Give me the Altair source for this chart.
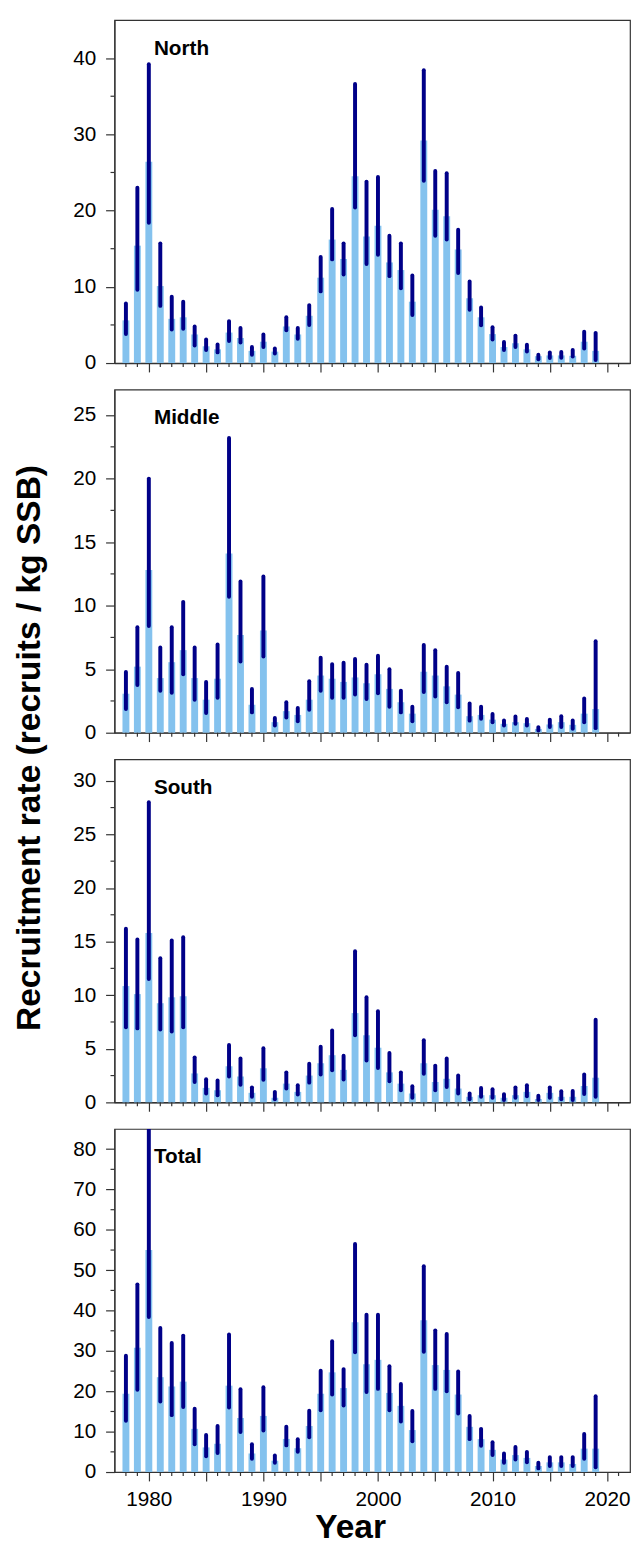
import altair as alt
import pandas as pd

years = list(range(1978, 2020))

north_med = [5.6, 15.4, 26.4, 10.1, 5.8, 6.0, 3.75, 2.2, 1.8, 4.0, 3.3, 1.6, 2.8, 1.5, 4.8, 3.75, 6.2, 11.2, 16.2, 13.65, 24.5,
             16.6, 18.0, 13.2, 12.2, 8.05, 29.2, 20.1, 19.25, 14.9, 8.5, 6.0, 3.8, 2.1, 2.6, 1.8, 0.9, 1.0, 1.0, 0.95, 2.8, 1.6]
north_lo = [3.8, 9.6, 18.4, 7.5, 4.4, 4.5, 2.3, 1.7, 1.4, 2.9, 2.7, 1.1, 2.1, 1.25, 4.3, 3.2, 5.0, 9.4, 13.6, 11.6, 20.4,
            13.0, 14.2, 11.4, 9.8, 6.3, 23.9, 16.7, 16.2, 11.8, 7.0, 4.95, 3.1, 1.7, 2.1, 1.5, 0.5, 0.65, 0.7, 0.85, 1.9, 0.4]
north_hi = [7.8, 23.0, 39.2, 15.7, 8.7, 8.05, 4.8, 3.1, 2.45, 5.5, 4.6, 2.1, 3.75, 1.9, 6.0, 4.6, 7.6, 13.9, 20.2, 15.7, 36.6,
            23.8, 24.4, 16.7, 15.7, 11.5, 38.4, 25.2, 24.9, 17.5, 10.7, 7.3, 4.7, 2.75, 3.6, 2.4, 1.1, 1.4, 1.45, 1.7, 4.1, 3.96]

middle_med = [3.07, 5.2, 12.8, 4.3, 5.55, 6.5, 4.3, 2.6, 4.25, 14.1, 7.7, 2.2, 8.05, 0.83, 1.7, 1.4, 2.6, 4.5, 4.25, 4.0, 4.35,
              3.9, 4.6, 3.45, 2.4, 1.5, 4.8, 4.5, 3.65, 3.0, 1.3, 1.4, 1.03, 0.7, 0.83, 0.75, 0.3, 0.65, 0.83, 0.62, 1.5, 1.86]
middle_lo = [1.86, 3.75, 8.4, 3.3, 3.15, 4.6, 2.6, 1.55, 2.75, 10.7, 5.6, 1.6, 6.0, 0.57, 1.2, 0.9, 1.8, 3.3, 2.75, 2.75, 3.0,
             2.65, 3.1, 2.05, 1.6, 0.9, 3.2, 2.85, 2.4, 2.0, 0.95, 1.1, 0.83, 0.57, 0.7, 0.57, 0.18, 0.44, 0.44, 0.31, 0.83, 0.36]
middle_hi = [4.78, 8.3, 20.0, 6.7, 8.3, 10.3, 6.7, 4.0, 6.95, 23.2, 11.9, 3.45, 12.3, 1.16, 2.4, 1.94, 4.05, 5.9, 5.4, 5.5, 5.8,
             5.35, 6.05, 5.0, 3.3, 2.05, 6.9, 6.5, 5.2, 4.7, 2.3, 2.05, 1.47, 0.96, 1.27, 1.08, 0.44, 1.03, 1.3, 0.96, 2.7, 7.2]

south_med = [10.85, 10.1, 15.8, 9.25, 9.8, 9.9, 2.7, 1.35, 1.13, 3.37, 2.42, 0.89, 3.18, 0.43, 1.75, 0.98, 2.5, 3.65, 4.4, 3.03, 8.33,
             6.25, 5.1, 2.8, 1.75, 0.83, 3.65, 1.9, 2.2, 1.29, 0.52, 0.67, 0.67, 0.43, 0.67, 0.98, 0.31, 0.89, 0.52, 0.52, 1.53, 2.3]
south_lo = [7.0, 6.9, 11.5, 6.8, 6.6, 7.0, 1.9, 0.83, 0.67, 2.42, 1.65, 0.52, 2.1, 0.3, 1.3, 0.74, 1.84, 2.6, 3.0, 2.14, 6.25,
            3.9, 3.2, 1.96, 1.13, 0.43, 2.66, 1.13, 1.44, 0.83, 0.3, 0.52, 0.43, 0.21, 0.43, 0.58, 0.21, 0.43, 0.3, 0.21, 0.77, 0.52]
south_hi = [16.2, 15.2, 28.0, 13.45, 15.1, 15.4, 4.2, 2.15, 2.05, 5.36, 4.1, 1.4, 5.05, 0.98, 2.8, 1.6, 3.6, 5.2, 6.7, 4.35, 14.1,
            9.8, 8.5, 4.6, 2.8, 1.5, 5.8, 3.43, 4.1, 2.5, 0.83, 1.35, 1.22, 0.77, 1.4, 1.6, 0.61, 1.4, 1.04, 1.07, 2.6, 7.7]

total_med = [19.4, 30.8, 55.0, 23.5, 21.2, 22.4, 10.7, 6.1, 7.0, 21.4, 13.4, 4.6, 13.9, 2.8, 8.2, 5.9, 11.4, 19.4, 24.7, 20.8, 37.1,
             26.7, 27.8, 19.6, 16.4, 10.4, 37.6, 26.5, 25.3, 19.2, 11.2, 8.15, 5.5, 3.1, 4.2, 3.5, 1.5, 2.4, 2.4, 2.0, 5.8, 5.8]
total_lo = [12.7, 20.4, 38.4, 17.5, 14.1, 16.1, 6.9, 3.9, 4.7, 16.0, 9.9, 3.3, 10.3, 2.3, 6.6, 5.0, 8.6, 15.3, 19.2, 16.5, 29.7,
            19.8, 20.6, 15.3, 12.5, 7.6, 29.8, 20.6, 20.0, 14.5, 8.15, 6.5, 4.2, 2.3, 3.1, 2.4, 0.9, 1.5, 1.5, 1.5, 3.3, 1.2]
total_hi = [28.8, 46.5, 86.0, 35.7, 32.0, 33.8, 15.7, 9.2, 11.4, 34.1, 20.5, 6.9, 21.0, 4.1, 11.2, 8.15, 15.2, 25.1, 32.4, 25.5, 56.5,
            39.0, 39.0, 26.2, 21.8, 15.1, 51.0, 35.1, 34.2, 24.9, 13.9, 10.7, 7.4, 4.6, 6.2, 5.0, 2.3, 3.7, 3.7, 3.7, 9.4, 18.8]

panel_names = ["North", "Middle", "South", "Total"]
panel_ymax = [45, 27, 32, 85]
panel_y_major = [[0, 10, 20, 30, 40], [0, 5, 10, 15, 20, 25], [0, 5, 10, 15, 20, 25, 30], [0, 10, 20, 30, 40, 50, 60, 70, 80]]
panel_y_minor = [[5, 15, 25, 35], [2.5, 7.5, 12.5, 17.5, 22.5], [2.5, 7.5, 12.5, 17.5, 22.5, 27.5],
                 [5, 15, 25, 35, 45, 55, 65, 75]]

x_major = [1980, 1985, 1990, 1995, 2000, 2005, 2010, 2015, 2020]
x_minor = [y for y in range(1978, 2022) if y % 5 != 0]

BAR = "#84C2EE"
NAVY = "#000088"
AXC = "#333333"
FONT = "Liberation Sans"
W, H = 523, 348


def panel(idx, med, lo, hi):
    df = pd.DataFrame({"year": years, "med": med, "lo": lo, "hi": hi})
    ymax = panel_ymax[idx]
    last = idx == 3

    x_axis = alt.Axis(
        values=x_major,
        labels=last,
        labelExpr="datum.value % 10 == 0 ? datum.label : ''",
        format="d",
        labelFontSize=21,
        labelPadding=8,
        labelFlush=False,
        labelOverlap=False,
        tickSize=9,
        title="Year" if last else None,
        titleFontSize=34,
        titleFontWeight="bold",
        titleFont=FONT,
        titleX=239,
        titleY=66,
        titleAlign="center",
        titleBaseline="alphabetic",
    )
    y_kwargs = dict(
        values=panel_y_major[idx],
        labelFontSize=21,
        labelPadding=10,
        labelOverlap=False,
        tickSize=9,
    )
    if idx == 2:
        y_axis = alt.Axis(
            title="Recruitment rate (recruits / kg SSB)",
            titleFontSize=34,
            titleFontWeight="bold",
            titleFont=FONT,
            titleAngle=270,
            titleX=-76,
            titleY=-12,
            titleAlign="center",
            titleBaseline="alphabetic",
            **y_kwargs,
        )
    else:
        y_axis = alt.Axis(title=None, **y_kwargs)

    xs = alt.Scale(domain=[1977, 2022], nice=False, zero=False, padding=0)
    ys = alt.Scale(domain=[0, ymax], nice=False)

    base = alt.Chart(df)
    bars = base.mark_bar(size=7, color=BAR).encode(
        x=alt.X("year:Q", scale=xs, axis=x_axis),
        y=alt.Y("med:Q", scale=ys, axis=y_axis),
    )
    rules = base.mark_rule(color=NAVY, strokeWidth=4, strokeCap="round", clip=True).encode(
        x=alt.X("year:Q"),
        y=alt.Y("lo:Q"),
        y2="hi:Q",
    )
    xminor = alt.Chart(pd.DataFrame({"t": x_minor})).mark_rule(color=AXC, strokeWidth=1.2).encode(
        x=alt.X("t:Q"), y=alt.value(H), y2=alt.value(H + 4)
    )
    yminor = alt.Chart(pd.DataFrame({"v": panel_y_minor[idx]})).mark_rule(color=AXC, strokeWidth=1.2).encode(
        y=alt.Y("v:Q"), x=alt.value(0), x2=alt.value(-4)
    )
    label = alt.Chart(pd.DataFrame({"name": [panel_names[idx]]})).mark_text(
        align="left", baseline="alphabetic", font=FONT, fontSize=21, fontWeight="bold", color="black"
    ).encode(x=alt.value(40), y=alt.value(35), text="name:N")
    return alt.layer(bars, rules, xminor, yminor, label).properties(width=W, height=H)


chart = alt.vconcat(
    panel(0, north_med, north_lo, north_hi),
    panel(1, middle_med, middle_lo, middle_hi),
    panel(2, south_med, south_lo, south_hi),
    panel(3, total_med, total_lo, total_hi),
    spacing=27,
    bounds="flush",
).properties(
    padding={"left": 4, "top": 0, "right": 0, "bottom": 0}
).configure_axis(
    labelFont=FONT,
    labelColor="black",
    domainColor=AXC,
    tickColor=AXC,
    domainWidth=1.2,
    tickWidth=1.2,
    grid=False,
).configure_view(
    stroke=AXC,
    strokeWidth=1.2,
)

chart.save("out.html", embed_options={"renderer": "svg", "actions": False})
